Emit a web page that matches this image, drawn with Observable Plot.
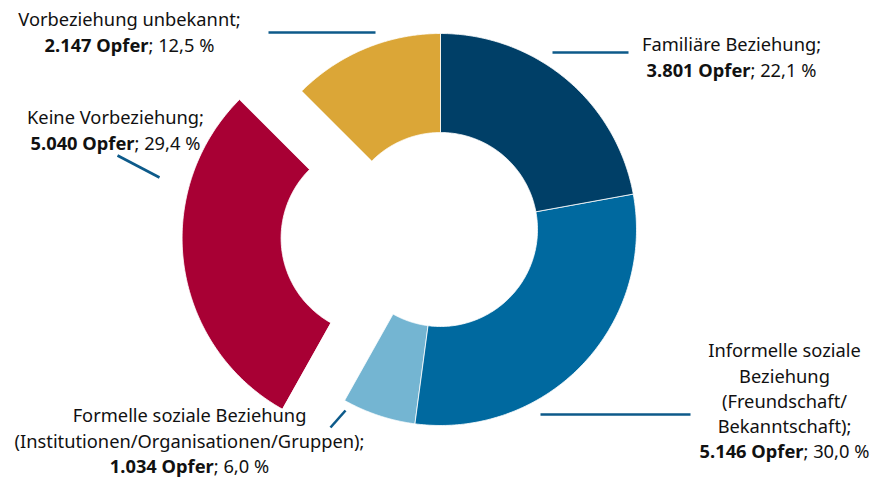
<!DOCTYPE html>
<html><head><meta charset="utf-8">
<script src="https://cdn.jsdelivr.net/npm/d3@7"></script>
<script src="https://cdn.jsdelivr.net/npm/@observablehq/plot@0.6"></script>
<style>body{margin:0;background:#fff} svg{display:block}</style>
</head><body><div id="chart"></div>
<script>
// ---- data ----
const categories = ["Familiäre Beziehung", "Informelle soziale Beziehung", "Formelle soziale Beziehung", "Keine Vorbeziehung", "Vorbeziehung unbekannt"];
const victims = [3801, 5146, 1034, 5040, 2147];
const shares = [22.1, 30.0, 6.0, 29.4, 12.5];
const labelLines = [
  ["Familiäre Beziehung;"],
  ["Informelle soziale", "Beziehung", "(Freundschaft/", "Bekanntschaft);"],
  ["Formelle soziale Beziehung", "(Institutionen/Organisationen/Gruppen);"],
  ["Keine Vorbeziehung;"],
  ["Vorbeziehung unbekannt;"]
];
const explodedCategories = ["Keine Vorbeziehung"];

// ---- styles / layout ----
const colors = ["#003f67", "#00699f", "#74b5d2", "#a80034", "#dba637"];
const W = 872, H = 479;
const CX = 440, CY = 229, R = 196;      // pixel centre and outer radius
const innerRatio = 97 / 196;
const explodeDist = 63 / 196;
const fontSize = 18.3, lineH = 25.2;
// label anchor (centre x, first baseline y) in pixels
const labelLayout = [[731, 50], [784, 356], [189, 421], [115, 123], [129, 25]];
// leader lines in pixels
const leaderLayout = [[552, 52, 628, 52], [540, 414, 690, 414], [330, 427, 345, 410], [117, 155, 159, 177], [268, 32, 375, 32]];

const toX = px => (px - CX) / R;
const toY = py => (CY - py) / R;

const de = d3.formatLocale({decimal: ",", thousands: ".", grouping: [3], currency: ["", " €"]});
const fmtInt = de.format(",d"), fmtPct = de.format(".1f");

// ---- geometry from data ----
const pie = d3.pie().sort(null).value(d => d.value)(categories.map((c, i) => ({cat: c, value: victims[i]})));
const pts = [];
pie.forEach(p => {
  const mid = (p.startAngle + p.endAngle) / 2;
  const off = explodedCategories.includes(p.data.cat) ? explodeDist : 0;
  const ox = off * Math.sin(mid), oy = off * Math.cos(mid);
  const N = 120;
  for (let k = 0; k <= N; k++) {
    const a = p.startAngle + (p.endAngle - p.startAngle) * k / N;
    pts.push({cat: p.data.cat, x: ox + Math.sin(a), y: oy + Math.cos(a)});
  }
  for (let k = N; k >= 0; k--) {
    const a = p.startAngle + (p.endAngle - p.startAngle) * k / N;
    pts.push({cat: p.data.cat, x: ox + innerRatio * Math.sin(a), y: oy + innerRatio * Math.cos(a)});
  }
});

const labels = categories.map((c, i) => ({
  text: [...labelLines[i], `${fmtInt(victims[i])} Opfer; ${fmtPct(shares[i])} %`].join("\n"),
  x: toX(labelLayout[i][0]),
  y: toY(labelLayout[i][1] - 0.71 * fontSize - 4)
}));
const leaders = leaderLayout.map(([a, b, c, d]) => ({x1: toX(a), y1: toY(b), x2: toX(c), y2: toY(d)}));

const chart = Plot.plot({
  width: W, height: H,
  margin: 0,
  style: {fontFamily: "'Noto Sans', sans-serif", background: "#fff", color: "#111"},
  x: {domain: [toX(0), toX(W)], range: [0, W], axis: null},
  y: {domain: [toY(H), toY(0)], range: [H, 0], axis: null},
  color: {domain: categories, range: colors},
  marks: [
    Plot.line(pts, {x: "x", y: "y", z: "cat", fill: "cat", stroke: "white", strokeWidth: 0.8, curve: "linear-closed"}),
    Plot.link(leaders, {x1: "x1", y1: "y1", x2: "x2", y2: "y2", stroke: "#0d5a8a", strokeWidth: 2.6}),
    Plot.text(labels, {x: "x", y: "y", text: "text", textAnchor: "middle", lineAnchor: "top", lineHeight: lineH / fontSize, fontSize: fontSize, fill: "#111"})
  ]
});

// bold the "N Opfer" part
chart.querySelectorAll("tspan").forEach(ts => {
  const m = ts.textContent.match(/^(.+ Opfer)(;.*)$/);
  if (m && ts.children.length === 0) {
    ts.textContent = "";
    const b = document.createElementNS("http://www.w3.org/2000/svg", "tspan");
    b.setAttribute("font-weight", "bold");
    b.textContent = m[1];
    const n = document.createElementNS("http://www.w3.org/2000/svg", "tspan");
    n.textContent = m[2];
    ts.appendChild(b); ts.appendChild(n);
  }
});
document.getElementById("chart").appendChild(chart);
</script>
</body></html>
